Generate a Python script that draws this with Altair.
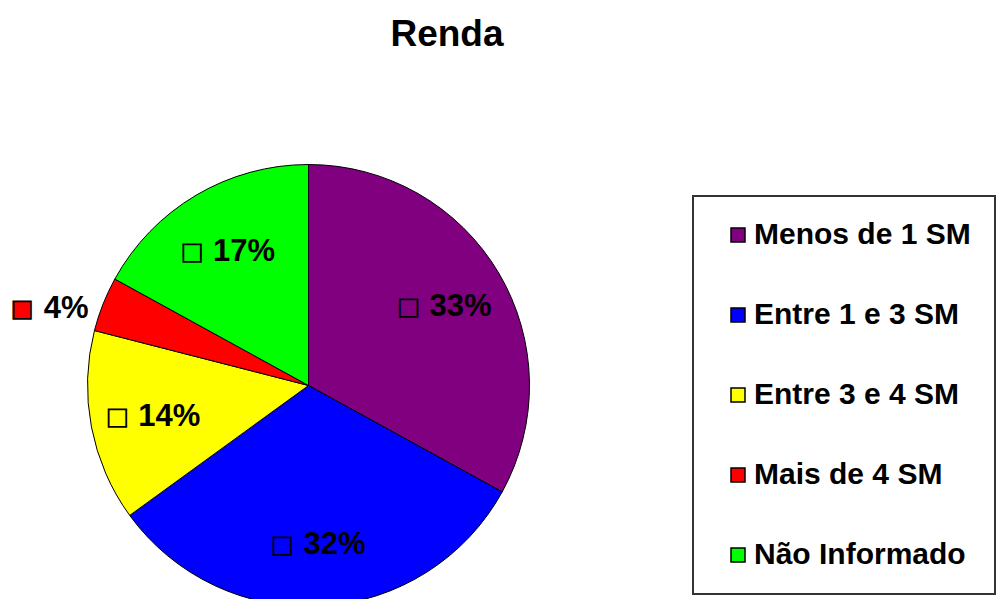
import altair as alt
import pandas as pd

categorias = ["Menos de 1 SM", "Entre 1 e 3 SM", "Entre 3 e 4 SM", "Mais de 4 SM", "Não Informado"]
valores = [33, 32, 14, 4, 17]
cores = ["#800080", "#0000FF", "#FFFF00", "#FF0000", "#00FF00"]
titulo = "Renda"

df = pd.DataFrame({
    "categoria": categorias,
    "valor": valores,
    "ordem": list(range(len(categorias))),
    "rotulo": [f"{v}%" for v in valores],
})

cx, cy = 300.5, 377.5
escala = alt.Scale(domain=categorias, range=cores)

base = alt.Chart(df).transform_calculate(
    dentro="datum.categoria == 'Mais de 4 SM' ? '' : datum.rotulo",
    fora="datum.categoria == 'Mais de 4 SM' ? datum.rotulo : ''",
    q_dentro="datum.categoria == 'Mais de 4 SM' ? '' : '■'",
    q_fora="datum.categoria == 'Mais de 4 SM' ? '■' : ''",
).encode(
    theta=alt.Theta("valor:Q", stack=True),
    order=alt.Order("ordem:Q"),
    x=alt.value(cx),
    y=alt.value(cy),
)

pie = base.mark_arc(outerRadius=221, stroke="black", strokeWidth=1).encode(
    color=alt.Color(
        "categoria:N",
        scale=escala,
        sort=categorias,
        legend=alt.Legend(
            title=None,
            orient="none",
            legendX=685,
            legendY=188,
            padding=24,
            symbolType="square",
            symbolSize=196,
            symbolOffset=6,
            symbolStrokeColor="black",
            symbolStrokeWidth=1.5,
            labelFont="Liberation Sans",
            labelFontSize=30,
            labelFontWeight="bold",
            labelColor="black",
            labelOffset=1,
            rowPadding=50,
            strokeColor="#333333",
            labelLimit=400,
        ),
    )
)

txt_props = dict(font="Liberation Sans", fontSize=31, fontWeight="bold", color="black",
                 align="center", baseline="middle")
sq_props = dict(font="DejaVu Sans", fontSize=23, stroke="black", strokeWidth=1.8,
                align="center", baseline="middle")

lab_in = base.mark_text(radius=158, dx=16, dy=2, **txt_props).encode(text="dentro:N")
lab_out = base.mark_text(radius=265, dx=4, dy=21, **txt_props).encode(text="fora:N")
sq_in = base.mark_text(radius=158, dx=-36, dy=2, **sq_props).encode(
    text="q_dentro:N", color=alt.Color("categoria:N", scale=escala, legend=None))
sq_out = base.mark_text(radius=265, dx=-40, dy=21, **sq_props).encode(
    text="q_fora:N", color=alt.Color("categoria:N", scale=escala, legend=None))

title = alt.Chart(pd.DataFrame({"t": [titulo]})).mark_text(
    font="Liberation Sans", fontSize=37, fontWeight="bold", color="black",
    align="center", baseline="alphabetic"
).encode(text="t:N", x=alt.value(439), y=alt.value(38))

chart = alt.layer(pie, sq_in, sq_out, lab_in, lab_out, title).properties(
    width=990, height=591, autosize=alt.AutoSizeParams(type="none"), padding=0
).configure_view(stroke=None).configure_legend(strokeWidth=2)

chart.save("out.html", embed_options={"renderer": "svg", "actions": False})
